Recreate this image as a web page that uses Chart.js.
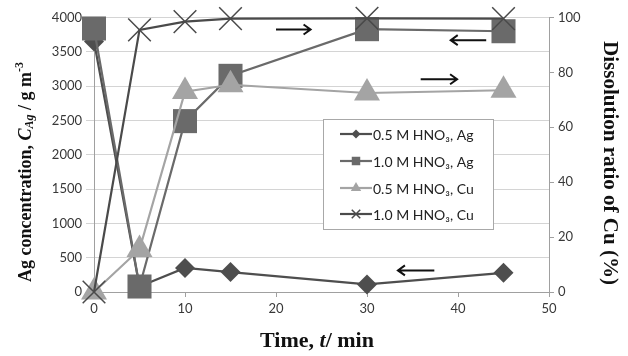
<!DOCTYPE html>
<html lang="en">
<head>
<meta charset="UTF-8">
<title>Ag and Cu dissolution</title>
<script src="https://cdn.jsdelivr.net/npm/chart.js"></script>
<style>
  html, body { margin: 0; padding: 0; background: #fff; }
  #wrap { width: 628px; height: 356px; }
</style>
</head>
<body>
<div id="wrap"><canvas id="chart" width="628" height="356"></canvas></div>
<script>
// sampling times (min)
const times = [0, 5, 10, 15, 30, 45];

// Ag concentration, g m-3 (left axis)
const ag05 = [3650, 80, 350, 290, 110, 280];
const ag10 = [3840, 80, 2490, 3150, 3830, 3800];

// Cu dissolution ratio, % (right axis)
const cu05 = [0, 15.5, 73, 75.5, 72.5, 73.5];
const cu10 = [0, 95.5, 98.5, 99.6, 99.7, 99.6];

const seriesNames = ['0.5 M HNO\u2083, Ag', '1.0 M HNO\u2083, Ag', '0.5 M HNO\u2083, Cu', '1.0 M HNO\u2083, Cu'];

// arrows telling which axis a curve belongs to: [t start, t end, C_Ag]
const arrows = [
  [20.0, 23.8, 3826],
  [43.1, 39.2, 3670],
  [35.9, 39.9, 3100],
  [37.4, 33.4, 315]
];

const tickFont = { family: 'Lato', size: 13 };
const tickColor = '#383838';
const gridColor = '#d4d4d4';

function mk(label, data, axis, style, radius, fill, line, order) {
  return {
    label: label,
    data: times.map((t, i) => ({ x: t, y: data[i] })),
    yAxisID: axis,
    pointStyle: style,
    pointRadius: radius,
    pointHoverRadius: radius,
    pointBackgroundColor: fill,
    pointBorderColor: style === 'crossRot' ? line : fill,
    pointBorderWidth: style === 'crossRot' ? 1.5 : 0,
    borderColor: line,
    borderWidth: 2.2,
    tension: 0,
    fill: false,
    clip: false,
    order: order
  };
}

const datasets = [
  mk(seriesNames[0], ag05, 'y', 'rectRot', 10, '#4e4e4e', '#4e4e4e', 4),
  mk(seriesNames[1], ag10, 'y', 'rect', 17, '#6a6a6a', '#6a6a6a', 3),
  mk(seriesNames[2], cu05, 'y1', 'triangle', 15, '#a4a4a4', '#a4a4a4', 2),
  mk(seriesNames[3], cu10, 'y1', 'crossRot', 16, '#4a4a4a', '#4a4a4a', 1)
];

// draws runs of text with mixed fonts along one baseline
function drawRuns(ctx, runs, x, y, angle) {
  ctx.save();
  ctx.translate(x, y);
  ctx.rotate(angle);
  let total = 0;
  runs.forEach(r => { ctx.font = r.font; total += ctx.measureText(r.text).width; });
  let cx = -total / 2;
  ctx.fillStyle = '#111';
  ctx.textBaseline = 'middle';
  ctx.textAlign = 'left';
  runs.forEach(r => {
    ctx.font = r.font;
    ctx.fillText(r.text, cx, r.dy || 0);
    cx += ctx.measureText(r.text).width;
  });
  ctx.restore();
}

const extras = {
  id: 'extras',
  afterDatasetsDraw(chart) {
    const ctx = chart.ctx;
    const xs = chart.scales.x, ys = chart.scales.y;

    // arrows
    ctx.save();
    ctx.strokeStyle = '#111';
    ctx.lineWidth = 2;
    arrows.forEach(a => {
      const x0 = xs.getPixelForValue(a[0]);
      const x1 = xs.getPixelForValue(a[1]);
      const y = ys.getPixelForValue(a[2]);
      const d = x1 > x0 ? 1 : -1;
      ctx.beginPath();
      ctx.moveTo(x0, y);
      ctx.lineTo(x1, y);
      ctx.moveTo(x1 - d * 7, y - 5);
      ctx.lineTo(x1, y);
      ctx.lineTo(x1 - d * 7, y + 5);
      ctx.stroke();
    });
    ctx.restore();

    // legend box
    const bx = 323, by = 119, bw = 170, bh = 110;
    ctx.save();
    ctx.fillStyle = '#fff';
    ctx.fillRect(bx, by, bw, bh);
    ctx.strokeStyle = '#a8a8a8';
    ctx.lineWidth = 1;
    ctx.strokeRect(bx + 0.5, by + 0.5, bw, bh);
    const rowY = [134, 161, 188, 214];
    const small = [4.5, 6, 6, 6];
    chart.data.datasets.forEach((ds, i) => {
      const y = rowY[i];
      ctx.strokeStyle = ds.borderColor;
      ctx.lineWidth = 2.2;
      ctx.beginPath();
      ctx.moveTo(340, y);
      ctx.lineTo(372, y);
      ctx.stroke();
      ctx.fillStyle = ds.pointBackgroundColor;
      ctx.strokeStyle = ds.pointBorderColor;
      ctx.lineWidth = ds.pointBorderWidth || 0.01;
      Chart.helpers.drawPoint(ctx, { pointStyle: ds.pointStyle, radius: small[i], rotation: 0, borderWidth: ds.pointBorderWidth }, 356, y);
      ctx.fillStyle = '#222';
      ctx.font = '14px Lato';
      ctx.textBaseline = 'middle';
      ctx.fillText(ds.label, 373, y + 1);
    });
    ctx.restore();
  },
  afterDraw(chart) {
    const ctx = chart.ctx;
    const serif = '"Liberation Serif"';
    drawRuns(ctx, [
      { text: 'Ag concentration, ', font: 'bold 18px ' + serif },
      { text: 'C', font: 'italic bold 18px ' + serif },
      { text: 'Ag', font: 'italic bold 12px ' + serif, dy: 4 },
      { text: ' / g m', font: 'bold 18px ' + serif },
      { text: '-3', font: 'bold 12px ' + serif, dy: -6 }
    ], 26, 172, -Math.PI / 2);
    drawRuns(ctx, [{ text: 'Dissolution ratio of Cu (%)', font: 'bold 21px ' + serif }], 609, 163, Math.PI / 2);
    drawRuns(ctx, [
      { text: 'Time, ', font: 'bold 22px ' + serif },
      { text: 't', font: 'italic bold 22px ' + serif },
      { text: '/ min', font: 'bold 22px ' + serif }
    ], 317, 341, 0);
  }
};

const plain = v => String(v);

new Chart(document.getElementById('chart'), {
  type: 'line',
  data: { datasets: datasets },
  options: {
    responsive: false,
    animation: false,
    layout: { padding: { top: 16, left: 0, right: 0, bottom: 0 } },
    plugins: { legend: { display: false }, tooltip: { enabled: false } },
    scales: {
      x: {
        type: 'linear',
        min: 0, max: 50,
        ticks: { stepSize: 10, font: tickFont, color: tickColor, padding: 4, callback: plain },
        grid: { drawOnChartArea: false, drawTicks: true, tickLength: 5, color: '#a0a0a0' },
        border: { display: true, color: '#a0a0a0' },
        afterFit(s) { s.height = 64; }
      },
      y: {
        position: 'left',
        min: 0, max: 4000,
        ticks: { stepSize: 500, font: tickFont, color: tickColor, padding: 4, callback: plain },
        grid: { color: gridColor, tickLength: 8 },
        border: { display: true, color: '#a0a0a0' },
        afterFit(s) { s.width = 94; }
      },
      y1: {
        position: 'right',
        min: 0, max: 100,
        ticks: { stepSize: 20, font: tickFont, color: tickColor, padding: 4, callback: plain },
        grid: { drawOnChartArea: false, tickLength: 5, color: '#a0a0a0' },
        border: { display: true, color: '#a0a0a0' },
        afterFit(s) { s.width = 79; }
      }
    }
  },
  plugins: [extras]
});
</script>
</body>
</html>
